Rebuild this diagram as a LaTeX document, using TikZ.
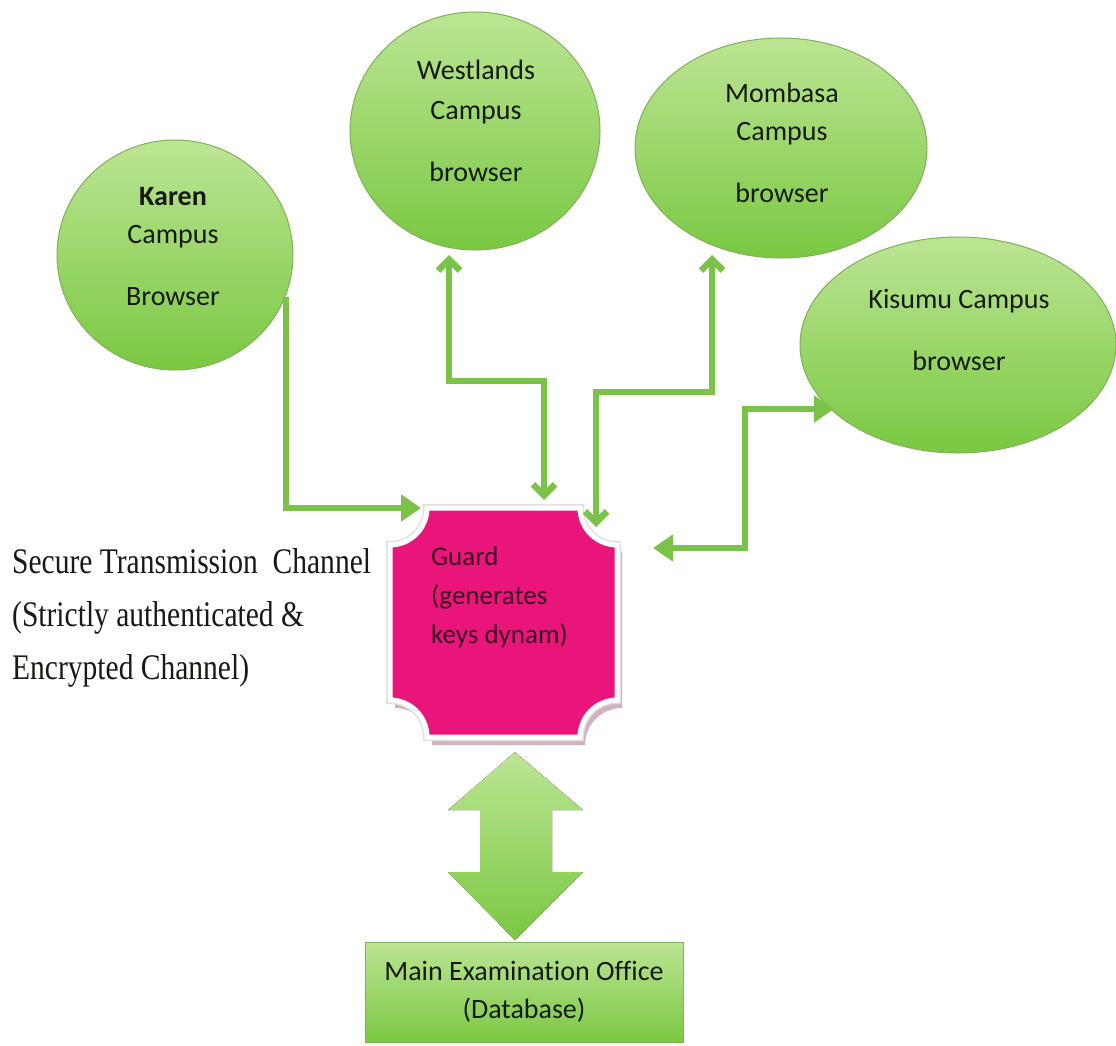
\documentclass[tikz,border=0pt]{standalone}
\usepackage{fontspec}
\setmainfont{Carlito}[Ligatures=NoCommon]
\newfontfamily\chanfont[FakeStretch=0.82]{Liberation Serif}
\usetikzlibrary{arrows.meta,shapes.geometric}

\definecolor{lnk}{RGB}{122,194,72}
\definecolor{bubTop}{RGB}{188,229,148}
\definecolor{bubBot}{RGB}{122,200,66}
\definecolor{bubEdge}{RGB}{128,176,88}
\definecolor{guardPink}{RGB}{233,21,123}
\definecolor{guardShade}{RGB}{208,178,192}
\definecolor{ink}{RGB}{22,26,18}
\definecolor{guardInk}{RGB}{60,8,34}

\tikzset{
  campus/.style={ellipse, draw=bubEdge, line width=1pt,
    top color=bubTop, bottom color=bubBot, inner sep=0},
  lbl/.style={font=\fontsize{28}{38}\selectfont, text=ink, align=center, inner sep=0},
  link/.style={draw=lnk, line width=6.5pt},
  barb/.style={arrows={{Straight Barb[length=11,width=22]}-{Straight Barb[length=11,width=22]}}},
  solidtip/.style={arrows={-{Triangle[length=20,width=26]}}},
  solidboth/.style={arrows={{Triangle[length=20,width=26]}-{Triangle[length=20,width=26]}}},
  guardshape/.pic={
    \path[pic actions] (427,-508) -- (580,-508)
      arc[start angle=180,end angle=270,radius=37] -- (617,-700)
      arc[start angle=90,end angle=180,radius=37] -- (427,-737)
      arc[start angle=0,end angle=90,radius=37] -- (390,-545)
      arc[start angle=270,end angle=360,radius=37] -- cycle;
  }
}

\begin{document}
\begin{tikzpicture}[x=1pt,y=1pt]
\useasboundingbox[fill=white] (0,0) rectangle (1116,-1046);

% campus bubbles
\node[campus, minimum width=236, minimum height=230] (karen) at (175,-255) {};
\node[campus, minimum width=250, minimum height=238] (westlands) at (475,-131) {};
\node[campus, minimum width=292, minimum height=220] (mombasa) at (781,-148) {};
\node[campus, minimum width=316, minimum height=216] (kisumu) at (958,-345) {};

\node[lbl] (karen-t) at (173,-247) {\textbf{Karen}\\Campus\\[24pt]Browser};
\node[lbl] (westlands-t) at (476,-121) {Westlands\\[2pt]Campus\\[24pt]browser};
\node[lbl] (mombasa-t) at (782,-143) {Mombasa\\Campus\\[24pt]browser};
\node[lbl] (kisumu-t) at (959,-330) {Kisumu Campus\\[24pt]browser};

% connector end points
\coordinate (karen-out) at (286,-297);
\coordinate (guard-k) at (421,-508);
\coordinate (west-in) at (449,-255);
\coordinate (guard-w) at (544,-500);
\coordinate (mom-in) at (712,-255);
\coordinate (guard-m) at (596,-527);
\coordinate (kis-in) at (834,-409);
\coordinate (guard-s) at (653,-548);

% double arrow to the database
\fill[top color=bubTop, bottom color=bubBot]
  (515,-752) -- (583,-810) -- (552,-810) -- (552,-872) -- (583,-872)
  -- (515,-940) -- (448,-872) -- (480,-872) -- (480,-810) -- (448,-810) -- cycle;

% guard
\pic[fill=guardShade] at (5,-8) {guardshape};
\pic[draw=black!12, line width=8pt] at (0,0) {guardshape};
\pic[draw=white, line width=5pt, fill=guardPink] at (0,0) {guardshape};
\node[minimum width=227, minimum height=229, inner sep=0] (guard) at (503.5,-622.5) {};
\node[lbl, align=left, anchor=west, text=guardInk, font=\fontsize{27}{39}\selectfont]
  (guard-t) at (431,-597.5) {Guard\\(generates\\keys dynam)};

% connectors
\draw[link, solidtip] (karen-out) |- (guard-k);
\draw[link, barb] (west-in) -- ++(0,-126) -| (guard-w);
\draw[link, barb] (mom-in) -- ++(0,-137) -| (guard-m);
\draw[link, solidboth] (kis-in) -| ++(-89,-139) -- (guard-s);

% database
\node[draw=bubEdge, line width=1pt, top color=bubTop, bottom color=bubBot,
  minimum width=318, minimum height=100, inner sep=0, align=center,
  font=\fontsize{28}{38}\selectfont, text=ink] (office) at (524,-992)
  {Main Examination Office\\(Database)};

% channel note
\node[anchor=west, inner sep=0, align=left, text=ink,
  font=\chanfont\fontsize{36}{53}\selectfont] (channel) at (12,-618)
  {Secure Transmission~ Channel\\(Strictly authenticated \&\\Encrypted Channel)};
\end{tikzpicture}
\end{document}
